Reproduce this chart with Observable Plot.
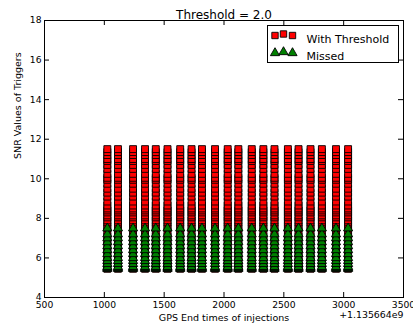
<!DOCTYPE html>
<html><head><meta charset="utf-8">
<script src="https://cdn.jsdelivr.net/npm/d3@7"></script>
<script src="https://cdn.jsdelivr.net/npm/@observablehq/plot@0.6"></script>
<style>body{margin:0;background:#fff;} svg{font-family:"DejaVu Sans",sans-serif;}</style>
</head><body><div id="chart"></div>
<script>
const title = "Threshold = 2.0";
const xLabel = "GPS End times of injections";
const yLabel = "SNR Values of Triggers";
const offsetText = "+1.135664e9";
const seriesNames = ["With Threshold", "Missed"];
const injectionTimes = [1025, 1114, 1240, 1340, 1430, 1528, 1634, 1729, 1816, 1925, 2031, 2120, 2232, 2329, 2422, 2534, 2623, 2723, 2818, 2936, 3037];
const triggerSNRs = [5.45, 5.5, 5.6, 5.8, 5.9, 6.1, 6.3, 6.4, 6.6, 6.8, 6.9, 7.1, 7.3, 7.5, 7.6, 7.8, 7.9, 8.05, 8.15, 8.3, 8.4, 8.5, 8.65, 8.85, 9.1, 9.3, 9.5, 9.75, 9.95, 10.05, 10.25, 10.5, 10.7, 10.9, 11.0, 11.2, 11.35, 11.5];
const missedSNRs = [5.45, 5.5, 5.55, 5.7, 5.85, 6.0, 6.2, 6.4, 6.6, 6.8, 7.0, 7.2, 7.5];
const xTicks = [500, 1000, 1500, 2000, 2500, 3000, 3500];
const yTicks = [4, 6, 8, 10, 12, 14, 16, 18];

const triggers = injectionTimes.flatMap(t => triggerSNRs.map(s => ({t, s})));
const missed = injectionTimes.flatMap(t => missedSNRs.map(s => ({t, s})));

const W = 413, H = 327, mL = 44, mR = 10, mT = 20, mB = 30;
const plotW = W - mL - mR, plotH = H - mT - mB;

const legendSquareOffsets = [[-128.5, 15], [-120, 13.5], [-111, 15]];
const legendTriangleOffsets = [[-128.5, 32.5], [-120, 31.5], [-111, 32.5]];

const chart = Plot.plot({
  width: W, height: H,
  marginLeft: mL, marginRight: mR, marginTop: mT, marginBottom: mB,
  style: {fontSize: "10px", fontFamily: "DejaVu Sans, sans-serif", color: "#000", background: "#fff"},
  x: {domain: [500, 3500]},
  y: {domain: [4, 18]},
  marks: [
    Plot.dot(triggers, {x: "t", y: "s", symbol: "square", r: 3.9, fill: "#ff0000", stroke: "#000", strokeWidth: 0.9}),
    Plot.dot(missed, {x: "t", y: "s", symbol: "triangle", r: 3.4, fill: "#008000", stroke: "#000", strokeWidth: 0.9}),
    // inward ticks
    Plot.ruleX(xTicks, {x: d => d, insetTop: plotH - 5, stroke: "#000"}),
    Plot.ruleX(xTicks, {x: d => d, insetBottom: plotH - 5, stroke: "#000"}),
    Plot.ruleY(yTicks, {y: d => d, insetRight: plotW - 5, stroke: "#000"}),
    Plot.ruleY(yTicks, {y: d => d, insetLeft: plotW - 5, stroke: "#000"}),
    Plot.axisX(xTicks, {tickSize: 0, tickPadding: 4, label: null, fontSize: 9.2, tickFormat: d => String(d)}),
    Plot.axisY(yTicks, {tickSize: 0, tickPadding: 3, label: null, fontSize: 9.2, tickFormat: d => String(d)}),
    Plot.frame({stroke: "#000", strokeWidth: 1}),
    // legend
    Plot.frame({fill: "#fff", stroke: "#000", strokeWidth: 1, insetLeft: 223, insetRight: 5, insetTop: 5, insetBottom: plotH - 42}),
    ...legendSquareOffsets.map(([dx, dy]) => Plot.dot([seriesNames[0]], {frameAnchor: "top-right", dx, dy, symbol: "square", r: 3.6, fill: "#ff0000", stroke: "#000", strokeWidth: 0.9})),
    ...legendTriangleOffsets.map(([dx, dy]) => Plot.dot([seriesNames[1]], {frameAnchor: "top-right", dx, dy, symbol: "triangle", r: 3.4, fill: "#008000", stroke: "#000", strokeWidth: 0.9})),
    Plot.text([seriesNames[0]], {frameAnchor: "top-right", dx: -97, dy: 15, textAnchor: "start", fontSize: 11}),
    Plot.text([seriesNames[1]], {frameAnchor: "top-right", dx: -97, dy: 32, textAnchor: "start", fontSize: 11}),
    // titles
    Plot.text([title], {frameAnchor: "top", dy: -10, fontSize: 12}),
    Plot.text([xLabel], {frameAnchor: "bottom", dy: 23, fontSize: 9.5}),
    Plot.text([offsetText], {frameAnchor: "bottom-right", dy: 20, textAnchor: "end", fontSize: 9.4}),
    Plot.text([yLabel], {frameAnchor: "left", dx: -27, rotate: -90, fontSize: 9.5})
  ]
});
document.getElementById("chart").appendChild(chart);
</script>
</body></html>
